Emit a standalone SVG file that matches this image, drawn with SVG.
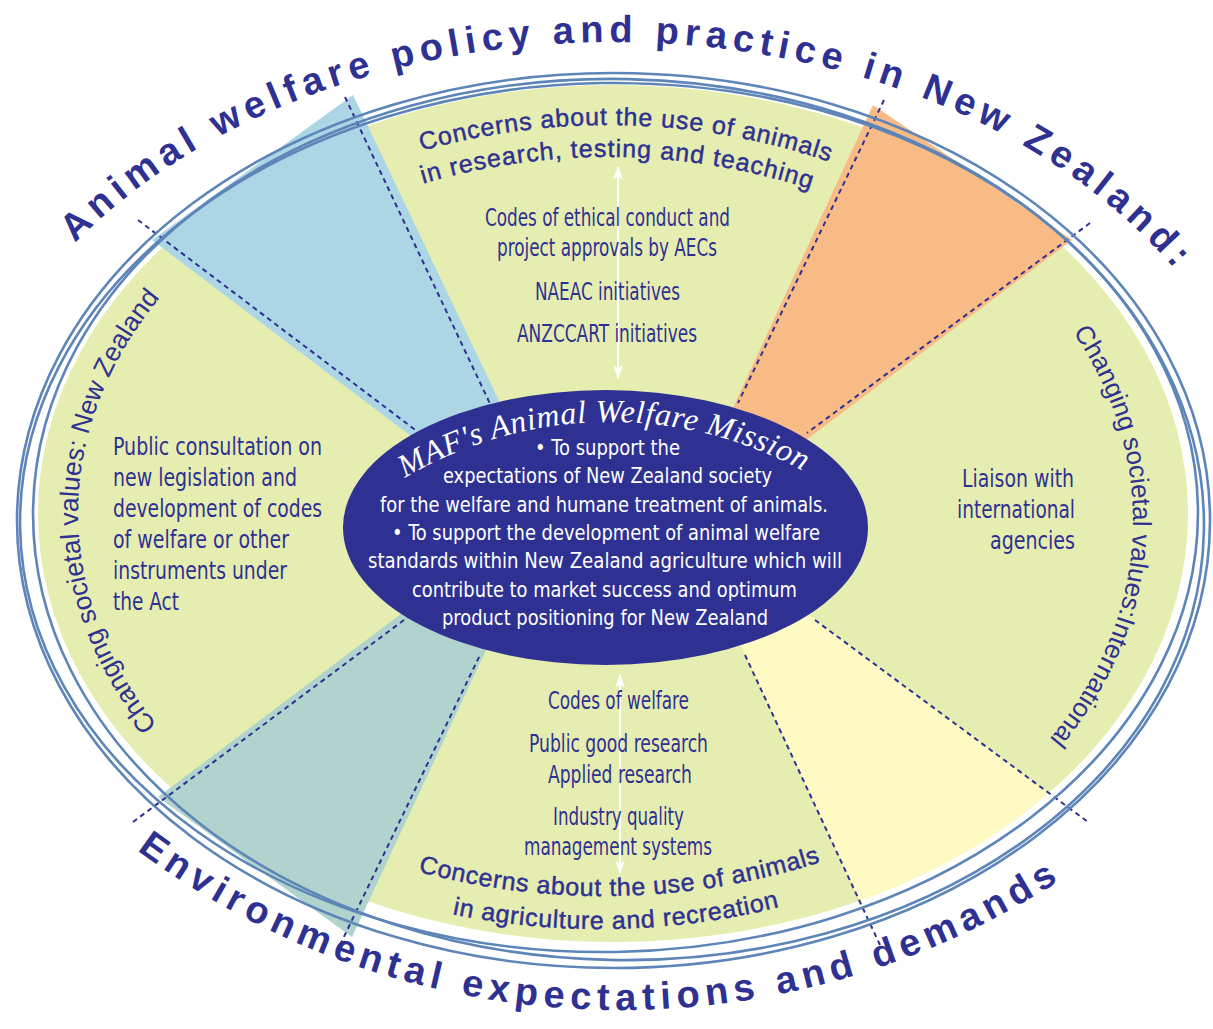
<svg xmlns="http://www.w3.org/2000/svg" width="1213" height="1029" viewBox="0 0 1213 1029">
<style>
.dash{fill:none;stroke:#2e3192;stroke-width:2;stroke-dasharray:5 4}
.ring{fill:none;stroke:#5d85b8;stroke-width:2.6}
.cur{font-family:"Liberation Sans",Arial,sans-serif;fill:#2e3192}
.heavy{stroke:#2e3192;stroke-width:0.45}
.title{font-family:"Liberation Sans",Arial,sans-serif;font-weight:bold;font-size:38px;fill:#2e3192;letter-spacing:5.9px}
.cond{font-family:"Liberation Sans Narrow","DejaVu Sans Condensed","Liberation Sans",sans-serif;fill:#2e3192;font-size:24px}
.mis{font-family:"Liberation Sans Narrow","DejaVu Sans Condensed","Liberation Sans",sans-serif;fill:#ffffff;font-size:21px}
.arrow{stroke:#ffffff;stroke-width:2;fill:none}
</style>
<defs>
<clipPath id="clipFill"><ellipse cx="613" cy="513.5" rx="575" ry="428.5"/></clipPath>
<marker id="ah" viewBox="0 0 14 10" refX="13" refY="5" markerWidth="14" markerHeight="10" orient="auto-start-reverse" markerUnits="userSpaceOnUse"><path d="M0,0 L14,5 L0,10 L4,5 z" fill="#ffffff"/></marker>
<path id="pTitle" d="M -24.5 396.3 A 660 478 0 0 1 1250.5 396.3"/>
<path id="pBottom" d="M -0.5 720.7 A 810 810 0 0 0 1240.5 720.7"/>
<path id="pTop1" d="M 167.1 285.5 A 686 686 0 0 1 1048.9 285.5"/>
<path id="pTop2" d="M 187.6 310 A 654 654 0 0 1 1028.4 310"/>
<path id="pBot1" d="M 143.4 728.7 A 715 715 0 0 0 1062.6 728.7"/>
<path id="pBot2" d="M 124.3 755.9 A 740 740 0 0 0 1075.7 755.9"/>
<path id="pLeft" d="M 345.5 863.7 A 535 405 0 0 1 345.5 162.3"/>
<path id="pRight" d="M 873 171 A 520 403 0 0 1 873 869"/>
<path id="pMaf" d="M 350.3 516.5 A 404 404 0 0 1 869.7 516.5"/>
</defs>

<g id="background">
<ellipse cx="613" cy="513.5" rx="575" ry="428.5" fill="#e6edb0"/>
</g>

<g id="wedges">
<polygon id="wedge-blue" points="353,95 513,430 440,458 152,240" fill="#acd5e6"/>
<polygon id="wedge-orange" points="873,105 1072,240 790,452 725,425" fill="#f8bb86"/>
<polygon id="wedge-teal" points="158,797 352,937 500,620 430,592" fill="#b0d3ce"/>
<polygon id="wedge-yellow" points="729,620 885,955 1100,831 790,601" fill="#fff9c4" clip-path="url(#clipFill)"/>
</g>

<g id="connectors">
<line class="dash" x1="345" y1="97" x2="493" y2="410"/>
<line class="dash" x1="138" y1="220" x2="418" y2="432"/>
<line class="dash" x1="884" y1="100" x2="738" y2="403"/>
<line class="dash" x1="1090" y1="223" x2="807" y2="433"/>
<line class="dash" x1="133" y1="822" x2="408" y2="617"/>
<line class="dash" x1="340" y1="945" x2="480" y2="655"/>
<line class="dash" x1="745" y1="655" x2="880" y2="945"/>
<line class="dash" x1="815" y1="620" x2="1088" y2="822"/>
<line class="arrow" x1="618" y1="167" x2="618" y2="378" marker-start="url(#ah)" marker-end="url(#ah)"/>
<line class="arrow" x1="620" y1="675" x2="620" y2="873" marker-start="url(#ah)" marker-end="url(#ah)"/>
</g>

<g id="rings">
<ellipse class="ring" cx="613.5" cy="520.5" rx="596.5" ry="447.5"/>
<ellipse class="ring" cx="618.5" cy="519.5" rx="585.5" ry="440.5" transform="rotate(1.2 618.5 519.5)"/>
<ellipse class="ring" cx="609" cy="517.5" rx="589" ry="434.5" transform="rotate(-1 609 517.5)"/>
</g>

<g id="node-mission">
<ellipse cx="605.5" cy="527.5" rx="262.5" ry="137.5" fill="#2e3192"/>
<text font-family="'Liberation Serif','DejaVu Serif',serif" font-style="italic" font-size="32" fill="#ffffff" letter-spacing="0.6"><textPath href="#pMaf" startOffset="67">MAF's Animal Welfare Mission</textPath></text>
<text class="mis" x="535" y="455" textLength="145" lengthAdjust="spacingAndGlyphs">•  To support the</text>
<text class="mis" x="443" y="483" textLength="329" lengthAdjust="spacingAndGlyphs">expectations of New Zealand society</text>
<text class="mis" x="380" y="512" textLength="448" lengthAdjust="spacingAndGlyphs">for the welfare and humane treatment of animals.</text>
<text class="mis" x="392" y="540" textLength="428" lengthAdjust="spacingAndGlyphs">• To support the development of animal welfare</text>
<text class="mis" x="368" y="568" textLength="474" lengthAdjust="spacingAndGlyphs">standards within New Zealand agriculture which will</text>
<text class="mis" x="412" y="597" textLength="385" lengthAdjust="spacingAndGlyphs">contribute to market success and optimum</text>
<text class="mis" x="442" y="625" textLength="326" lengthAdjust="spacingAndGlyphs">product positioning for New Zealand</text>
</g>

<g id="node-research">
<text class="cur heavy" font-size="25" letter-spacing="0.85"><textPath href="#pTop1" startOffset="290">Concerns about the use of animals</textPath></text>
<text class="cur heavy" font-size="25" letter-spacing="1.0"><textPath href="#pTop2" startOffset="269">in research, testing and teaching</textPath></text>
<text class="cond" x="485" y="226" textLength="245" lengthAdjust="spacingAndGlyphs">Codes of ethical conduct and</text>
<text class="cond" x="497" y="256" textLength="220" lengthAdjust="spacingAndGlyphs">project approvals by AECs</text>
<text class="cond" x="535" y="300" textLength="145" lengthAdjust="spacingAndGlyphs">NAEAC initiatives</text>
<text class="cond" x="517" y="342" textLength="180" lengthAdjust="spacingAndGlyphs">ANZCCART initiatives</text>
</g>

<g id="node-agriculture">
<text class="cond" x="548" y="709" textLength="141" lengthAdjust="spacingAndGlyphs">Codes of welfare</text>
<text class="cond" x="529" y="752" textLength="179" lengthAdjust="spacingAndGlyphs">Public good research</text>
<text class="cond" x="548" y="783" textLength="144" lengthAdjust="spacingAndGlyphs">Applied research</text>
<text class="cond" x="553" y="825" textLength="131" lengthAdjust="spacingAndGlyphs">Industry quality</text>
<text class="cond" x="524" y="855" textLength="188" lengthAdjust="spacingAndGlyphs">management systems</text>
<text class="cur heavy" font-size="25" letter-spacing="0.67"><textPath href="#pBot1" startOffset="312">Concerns about the use of animals</textPath></text>
<text class="cur heavy" font-size="25" letter-spacing="0.7"><textPath href="#pBot2" startOffset="368">in agriculture and recreation</textPath></text>
</g>

<g id="node-nz">
<text class="cond" x="113" y="455" textLength="209" lengthAdjust="spacingAndGlyphs">Public consultation on</text>
<text class="cond" x="113" y="486" textLength="184" lengthAdjust="spacingAndGlyphs">new legislation and</text>
<text class="cond" x="113" y="517" textLength="209" lengthAdjust="spacingAndGlyphs">development of codes</text>
<text class="cond" x="113" y="548" textLength="176" lengthAdjust="spacingAndGlyphs">of welfare or other</text>
<text class="cond" x="113" y="579" textLength="174" lengthAdjust="spacingAndGlyphs">instruments under</text>
<text class="cond" x="113" y="610" textLength="66" lengthAdjust="spacingAndGlyphs">the Act</text>
<text class="cur" font-size="26.5"><textPath href="#pLeft" startOffset="236">Changing societal values: New Zealand</textPath></text>
</g>

<g id="node-international">
<text class="cond" x="962" y="487" textLength="112" lengthAdjust="spacingAndGlyphs">Liaison with</text>
<text class="cond" x="957" y="518" textLength="118" lengthAdjust="spacingAndGlyphs">international</text>
<text class="cond" x="990" y="549" textLength="85" lengthAdjust="spacingAndGlyphs">agencies</text>
<text class="cur" font-size="26"><textPath href="#pRight" startOffset="260">Changing societal values:International</textPath></text>
</g>

<g id="titles">
<text class="title"><textPath href="#pTitle" startOffset="184">Animal welfare  policy and practice in New Zealand:</textPath></text>
<text class="title" font-size="40" letter-spacing="4.8"><textPath href="#pBottom" startOffset="189">Environmental expectations and demands</textPath></text>
</g>
</svg>
